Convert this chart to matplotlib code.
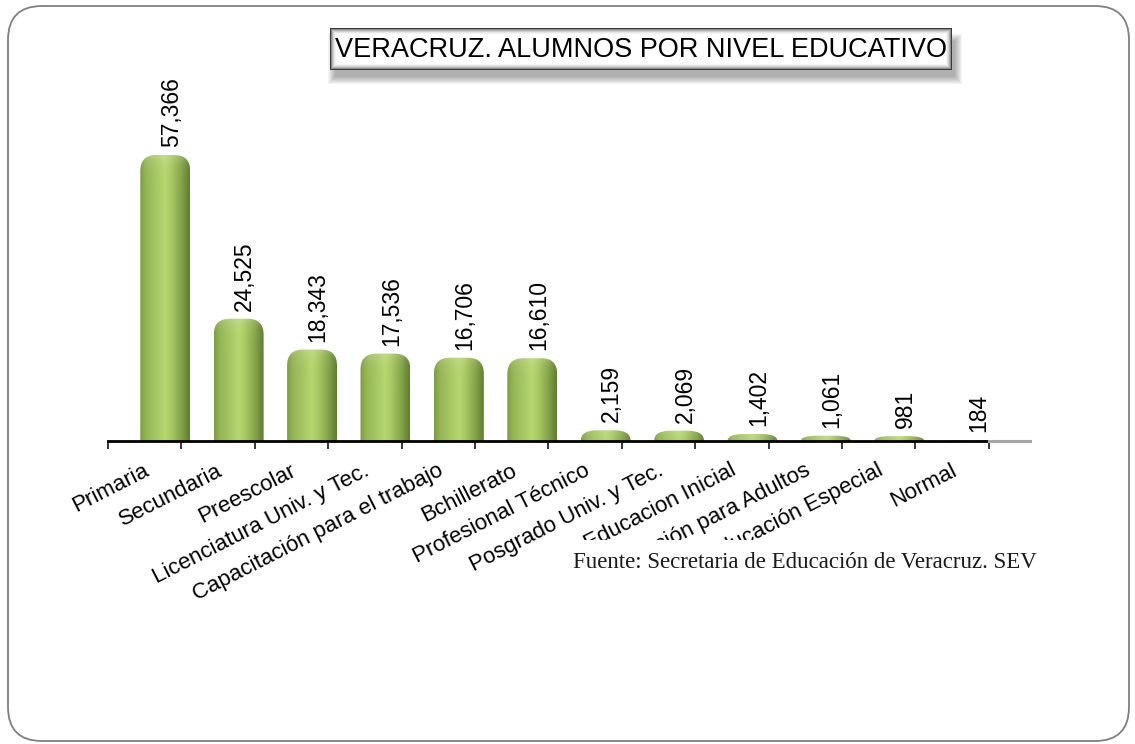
import numpy as np
import matplotlib
matplotlib.use("Agg")
import matplotlib.pyplot as plt
import matplotlib.transforms as mtransforms
from matplotlib.path import Path
from matplotlib.patches import PathPatch, FancyBboxPatch
from matplotlib.colors import to_rgb

niveles = ["Primaria", "Secundaria", "Preescolar", "Licenciatura Univ. y Tec.",
           "Capacitación para el trabajo", "Bchillerato", "Profesional Técnico",
           "Posgrado Univ. y Tec.", "Educacion Inicial", "Educación para Adultos",
           "Educación Especial", "Normal"]
alumnos = [57366, 24525, 18343, 17536, 16706, 16610, 2159, 2069, 1402, 1061, 981, 184]

titulo = "VERACRUZ. ALUMNOS POR NIVEL EDUCATIVO"
fuente = "Fuente: Secretaria de Educación de Veracruz. SEV"

W, H = 1135, 744
plt.rcParams['font.family'] = ['Liberation Sans', 'DejaVu Sans']

fig = plt.figure(figsize=(W / 100, H / 100), dpi=100)
ident = mtransforms.IdentityTransform()

# outer rounded frame (pixel coords, y measured from bottom)
frame = FancyBboxPatch((8, 3), 1121, 735, boxstyle="round,pad=0,rounding_size=34",
                       ec="#808080", fc="none", lw=1.3, transform=ident)
fig.add_artist(frame)

# plot area
ax_left, ax_right, ax_base, ax_top = 108, 1030, 441, 100
ax = fig.add_axes([ax_left / W, (H - ax_base) / H,
                   (ax_right - ax_left) / W, (ax_base - ax_top) / H])
slot = 73.4
x_lo = -0.78
x_hi = x_lo + (ax_right - ax_left) / slot
y_hi = alumnos[0] * (ax_base - ax_top) / 286.0
ax.set_xlim(x_lo, x_hi)
ax.set_ylim(0, y_hi)
for s in ax.spines.values():
    s.set_visible(False)
ax.set_yticks([])
ax.set_xticks(np.arange(len(niveles) + 1) + x_lo)
ax.set_xticklabels([])
ax.tick_params(axis='x', length=6, width=1.1, color='black', direction='out')
ax.patch.set_alpha(0)

px_y = y_hi / (ax_base - ax_top)   # data units per pixel (y)
px_x = 1.0 / slot                  # data units per pixel (x)

# baseline
ax.plot([x_lo, x_lo + len(niveles)], [0, 0], color='black', lw=2, clip_on=False, zorder=3)
ax.plot([x_lo + len(niveles), x_hi], [0, 0], color='#a6a6a6', lw=2.2, clip_on=False, zorder=3)

# green cylinder gradient
stops = [(0.0, "#7d9c42"), (0.12, "#94b556"), (0.5, "#b6d670"), (0.62, "#a8c963"),
         (0.82, "#86a64a"), (1.0, "#5e7b30")]
pos = np.linspace(0, 1, 120)
grad_rgb = np.zeros((pos.size, 3))
for c in range(3):
    grad_rgb[:, c] = np.interp(pos, [p for p, _ in stops], [to_rgb(col)[c] for _, col in stops])

bar_w = 0.68
rad_px = 16
for i, v in enumerate(alumnos):
    x0, x1 = i - bar_w / 2, i + bar_w / 2
    rx = rad_px * px_x
    ry = min(rad_px * px_y, v)
    verts = [(x0, 0), (x0, v - ry), (x0, v), (x0 + rx, v), (x1 - rx, v),
             (x1, v), (x1, v - ry), (x1, 0), (x0, 0)]
    codes = [Path.MOVETO, Path.LINETO, Path.CURVE3, Path.CURVE3, Path.LINETO,
             Path.CURVE3, Path.CURVE3, Path.LINETO, Path.CLOSEPOLY]
    patch = PathPatch(Path(verts, codes), fc='none', ec='none', zorder=2)
    ax.add_patch(patch)
    h_px = max(v / px_y, 1)
    nrow = 80
    dist = np.linspace(0, h_px, nrow)[:, None]
    light = 0.18 * np.exp(-dist / 7.0)
    img = grad_rgb[None, :, :] * (1 - light[..., None]) + light[..., None]
    im = ax.imshow(img, extent=[x0, x1, 0, v], origin='upper', aspect='auto',
                   interpolation='bilinear', zorder=2)
    im.set_clip_path(patch)
    ax.annotate(f"{v:,}", xy=(i, v), xytext=(6, 8), textcoords='offset pixels',
                rotation=90, ha='center', va='bottom', fontsize=16.5, color='black')

ax.set_xlim(x_lo, x_hi)
ax.set_ylim(0, y_hi)

# category labels
lbl_off = mtransforms.offset_copy(ax.transData, fig=fig, x=-22, y=-19, units='dots')
for i, name in enumerate(niveles):
    ax.text(i, 0, name, transform=lbl_off, rotation=27, rotation_mode='anchor',
            ha='right', va='top', fontsize=16, color='black', clip_on=False)

# source note with white box covering the lower labels
fig.add_artist(FancyBboxPatch((562, H - 600), 490, 60, boxstyle='square,pad=0',
                              fc='white', ec='none', transform=ident, zorder=9))
fig.text(573 / W, (H - 552) / H, fuente, ha='left', va='top', fontsize=16.5,
         family=['Liberation Serif', 'DejaVu Serif'], color='#1a1a1a', zorder=10)

# title box with soft shadow and bevel
tb_x0, tb_x1, tb_y0, tb_y1 = 330, 952, 28, 70
tw, th = tb_x1 - tb_x0, tb_y1 - tb_y0
for k in range(8):
    d = 8 - k
    fig.add_artist(FancyBboxPatch((tb_x0 + 6 - d, H - tb_y1 - 6 - d + 0), tw + 2 * d - 4, th + 2 * d - 8,
                                  boxstyle='square,pad=0', fc='black', ec='none',
                                  alpha=0.045, transform=ident, zorder=11))
bevel = ['#3a3a3a', '#8c8c8c', '#b4b4b4', '#d2d2d2', '#e6e6e6', '#f4f4f4']
for k, col in enumerate(bevel):
    fig.add_artist(FancyBboxPatch((tb_x0 + k, H - tb_y1 + k), tw - 2 * k, th - 2 * k,
                                  boxstyle='square,pad=0', fc=col, ec='none',
                                  transform=ident, zorder=12))
fig.add_artist(FancyBboxPatch((tb_x0 + 6, H - tb_y1 + 6), tw - 12, th - 12,
                              boxstyle='square,pad=0', fc='white', ec='none',
                              transform=ident, zorder=12))
fig.text((tb_x0 + tb_x1) / 2 / W, (H - (tb_y0 + tb_y1) / 2 - 1) / H, titulo,
         ha='center', va='center', fontsize=19.5, color='black', zorder=13)

fig.savefig("out.png", dpi=100)
